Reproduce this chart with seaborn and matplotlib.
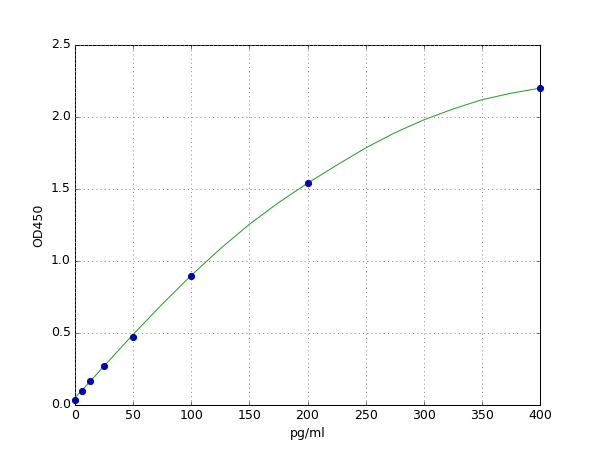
import matplotlib
matplotlib.use("Agg")
import matplotlib.pyplot as plt
import pandas as pd
import seaborn as sns

# standard points
conc = [0, 6.25, 12.5, 25, 50, 100, 200, 400]
od = [0.035, 0.10, 0.17, 0.273, 0.47, 0.898, 1.54, 2.20]

# fitted curve
curve_x = [0, 25, 50, 75, 100, 125, 150, 175, 200, 225, 250, 275, 300, 325, 350, 375, 400]
curve_y = [0.05, 0.27, 0.49, 0.70, 0.90, 1.085, 1.255, 1.405, 1.54, 1.665, 1.785,
           1.89, 1.98, 2.055, 2.12, 2.165, 2.20]

plt.style.use("classic")

pts = pd.DataFrame({"conc": conc, "od": od})
fit = pd.DataFrame({"x": curve_x, "y": curve_y})

fig, ax = plt.subplots(figsize=(8, 6), dpi=75)
fig.patch.set_facecolor("white")

sns.lineplot(data=fit, x="x", y="y", ax=ax, color="#2ca02c", linewidth=1.0, zorder=2)
sns.scatterplot(data=pts, x="conc", y="od", ax=ax, color="#0000cc", edgecolor="#000080",
                s=36, linewidth=0.8, zorder=3, clip_on=False)

ax.set_xlim(0, 400)
ax.set_ylim(0, 2.5)
ax.set_xticks(range(0, 401, 50))
ax.set_yticks([0.0, 0.5, 1.0, 1.5, 2.0, 2.5])
ax.grid(True, color="gray", linestyle=":", linewidth=0.8)
ax.set_xlabel("pg/ml", fontsize=12)
ax.set_ylabel("OD450", fontsize=12)
ax.tick_params(labelsize=12)

fig.savefig("out.png", dpi=75, facecolor="white")
